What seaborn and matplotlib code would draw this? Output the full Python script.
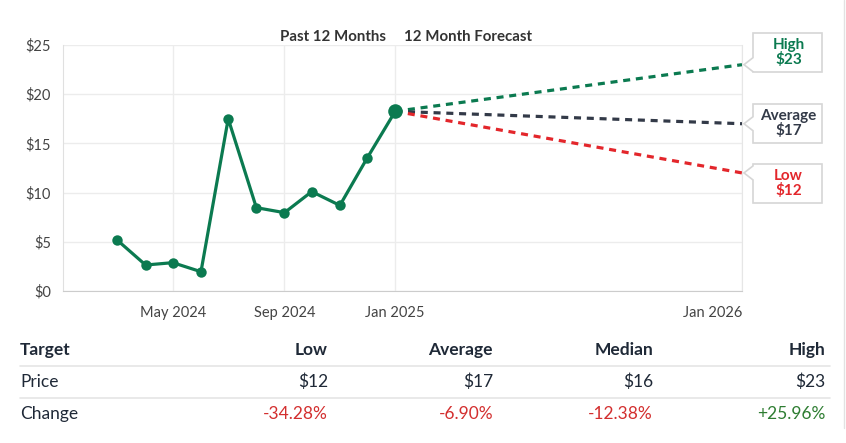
import pandas as pd
import numpy as np
import seaborn as sns
import matplotlib.pyplot as plt
import matplotlib.dates as mdates
from matplotlib.patches import Polygon
from matplotlib.lines import Line2D

# price history (monthly closes)
hist_dates = ['2024-03-01', '2024-04-01', '2024-05-01', '2024-06-01', '2024-07-01',
              '2024-08-01', '2024-09-01', '2024-10-01', '2024-11-01', '2024-12-01',
              '2025-01-01']
hist_prices = [5.15, 2.64, 2.88, 1.96, 17.5, 8.47, 7.96, 10.1, 8.7, 13.5, 18.26]

# analyst targets, one year out
target_names = ['High', 'Average', 'Low']
target_prices = [23, 17, 12]
forecast_end = '2026-01-18'

# table below the chart
table_header = ['Target', 'Low', 'Average', 'Median', 'High']
table_price = ['Price', '$12', '$17', '$16', '$23']
table_change = ['Change', '-34.28%', '-6.90%', '-12.38%', '+25.96%']

tick_dates = ['2024-05-01', '2024-09-01', '2025-01-01', forecast_end]
tick_labels = ['May 2024', 'Sep 2024', 'Jan 2025', 'Jan 2026']

GREEN = '#0b7a50'
DARK = '#333a48'
RED = '#e3262b'
target_colors = {'High': GREEN, 'Average': DARK, 'Low': RED}
change_colors = ['#1f2937', '#d32f2f', '#d32f2f', '#d32f2f', '#2e7d32']

sns.set_style('white')
plt.rcParams['font.family'] = ['Lato', 'DejaVu Sans']

W, H = 846, 443
fig = plt.figure(figsize=(W / 100, H / 100), dpi=100)


def fx(x):
    return x / W


def fy(y):
    return 1 - y / H


ax = fig.add_axes([fx(63), fy(291), fx(742 - 63), (291 - 45) / H])

hist = pd.DataFrame({'date': pd.to_datetime(hist_dates), 'price': hist_prices})
sns.lineplot(data=hist, x='date', y='price', color=GREEN, lw=2.3,
             marker='o', markersize=7.5, markeredgewidth=0, ax=ax, zorder=4)
sns.scatterplot(x=hist['date'].iloc[-1:], y=hist['price'].iloc[-1:], color=GREEN,
                s=110, linewidth=0, ax=ax, zorder=5)

start = hist['date'].iloc[-1]
end = pd.Timestamp(forecast_end)
for name, val in zip(target_names, target_prices):
    fc = pd.DataFrame({'date': [start, end], 'price': [hist['price'].iloc[-1], val]})
    sns.lineplot(data=fc, x='date', y='price', color=target_colors[name], lw=2.3,
                 linestyle=(0, (2.2, 1.8)), ax=ax, zorder=3)

ax.set_xlim(pd.Timestamp('2024-01-01'), end)
ax.set_ylim(0, 25)
ax.set_yticks([0, 5, 10, 15, 20, 25])
ax.set_yticklabels([f'${v}' for v in [0, 5, 10, 15, 20, 25]])
ax.set_xticks(pd.to_datetime(tick_dates))
ax.set_xticklabels(tick_labels)
ax.get_xticklabels()[-1].set_horizontalalignment('right')
ax.set_xlabel('')
ax.set_ylabel('')
ax.grid(True, color='#ececec', lw=1)
ax.tick_params(axis='x', length=9, color='#e6e6e6', width=1, labelsize=10.5,
               labelcolor='#444444', pad=2)
ax.tick_params(axis='y', length=0, labelsize=10.5, labelcolor='#444444', pad=8.5)
ax.spines['top'].set_visible(False)
ax.spines['left'].set_color('#e0e0e0')
ax.spines['right'].set_color('#e6e6e6')
ax.spines['bottom'].set_color('#cccccc')

# section headers
fig.text(fx(333), fy(37), 'Past 12 Months', ha='center', va='center',
         fontsize=10.8, fontweight='bold', color='#333333')
fig.text(fx(468), fy(37), '12 Month Forecast', ha='center', va='center',
         fontsize=10.8, fontweight='bold', color='#333333')

# callout boxes at the end of each forecast line
box_spans = {'High': (33, 72), 'Average': (104, 143), 'Low': (164, 203)}
bx0, bx1, tip_x = 753, 822, 744
for name, val in zip(target_names, target_prices):
    _, ty = ax.transData.transform((mdates.date2num(end), val))
    ty = H - ty
    top, bot = box_spans[name]
    pts = [(bx0, top), (bx1, top), (bx1, bot), (bx0, bot),
           (bx0, ty + 7), (tip_x, ty), (bx0, ty - 7)]
    poly = Polygon([(fx(x), fy(y)) for x, y in pts], closed=True,
                   transform=fig.transFigure, fc='white', ec='#d6d6d6', lw=1.2)
    fig.add_artist(poly)
    fig.text(fx((bx0 + bx1) / 2 + 1), fy((top + bot) / 2), f'{name}\n${val}',
             ha='center', va='center', fontsize=11, fontweight='bold',
             color=target_colors[name], linespacing=0.92)

# table
col_x = [20, 328, 493, 653, 825]
row_y = [350, 382, 414]
for i, (txt, x) in enumerate(zip(table_header, col_x)):
    fig.text(fx(x), fy(row_y[0]), txt, ha='left' if i == 0 else 'right',
             va='center', fontsize=12.5, fontweight='bold', color='#1f2937')
for i, (txt, x) in enumerate(zip(table_price, col_x)):
    fig.text(fx(x), fy(row_y[1]), txt, ha='left' if i == 0 else 'right',
             va='center', fontsize=12.5, color='#1f2937')
for i, (txt, x) in enumerate(zip(table_change, col_x)):
    fig.text(fx(x), fy(row_y[2]), txt, ha='left' if i == 0 else 'right',
             va='center', fontsize=12.5, color=change_colors[i])
for y in [365.5, 397.5]:
    fig.add_artist(Line2D([fx(20), fx(830)], [fy(y), fy(y)], color='#e5e5e5', lw=1.2))

# container border
fig.add_artist(Line2D([fx(843.5), fx(843.5)], [fy(0), fy(428)], color='#e2e2e2', lw=1))

fig.savefig('out.png', dpi=100)
